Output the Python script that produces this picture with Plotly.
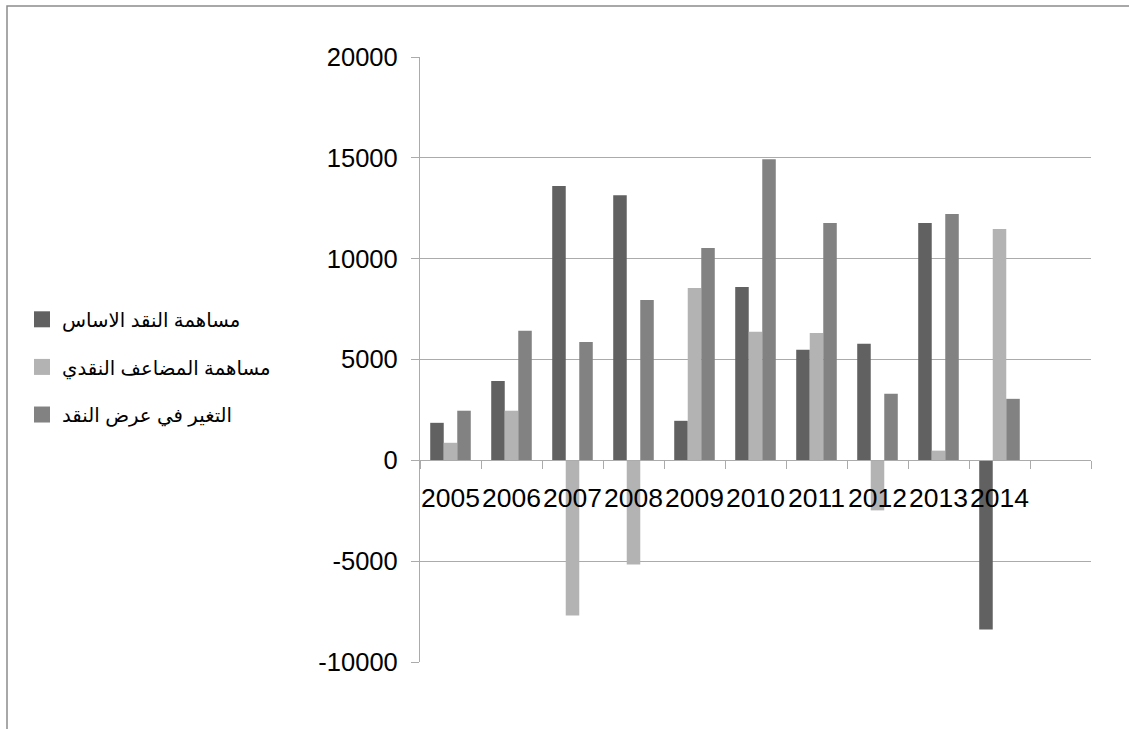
import plotly.graph_objects as go

# Yearly contributions to the change in money supply
years = ["2005", "2006", "2007", "2008", "2009", "2010", "2011", "2012", "2013", "2014"]
base_money = [1860, 3940, 13600, 13150, 1960, 8600, 5480, 5780, 11770, -8390]
multiplier = [870, 2460, -7700, -5170, 8550, 6370, 6320, -2480, 480, 11470]
money_supply_change = [2460, 6420, 5870, 7950, 10530, 14930, 11770, 3300, 12210, 3050]

series_names = [
    "مساهمة النقد الاساس",
    "مساهمة المضاعف النقدي",
    "التغير في عرض النقد",
]
series_colors = ["#616161", "#b3b3b3", "#828282"]

y_tick_values = [-10000, -5000, 0, 5000, 10000, 15000, 20000]
y_tick_labels = ["-10000", "-5000", "0", "5000", "10000", "15000", "20000"]

# one spare slot after the last year, as in the original sheet layout
x_categories = years + [" "]

FONT = "Liberation Sans, Arial, DejaVu Sans, sans-serif"
FS = 25.5
GRID = "#ababab"

W, H = 1129, 729
L, R, T, B = 420, 38, 57, 67
Y_MIN, Y_MAX = -10000, 20000

fig = go.Figure()
for name, vals, col in zip(series_names, [base_money, multiplier, money_supply_change], series_colors):
    fig.add_trace(go.Bar(
        x=years, y=vals, name=name, marker_color=col,
        marker_line_width=0, legendgroup=name, showlegend=False,
    ))
    # legend entry with a larger square key
    fig.add_trace(go.Scatter(
        x=[None], y=[None], mode="markers", name=name, legendgroup=name,
        marker=dict(symbol="square", size=16, color=col, line_width=0),
        showlegend=True,
    ))

# paper coordinates of the outer chart frame
pw, ph = W - L - R, H - T - B
fx0 = (7 - L) / pw
fx1 = (W + 10 - L) / pw
fy1 = (H - B - 6) / ph
fy0 = (H - B - (H + 10)) / ph

fig.update_layout(
    width=W, height=H,
    margin=dict(l=L, r=R, t=T, b=B, pad=0),
    paper_bgcolor="white", plot_bgcolor="white",
    barmode="group", bargap=0.335, bargroupgap=0,
    font=dict(family=FONT, size=FS, color="black"),
    showlegend=True,
    legend=dict(
        x=(22 - L) / pw, y=(H - B - 300) / ph,
        xanchor="left", yanchor="top",
        font=dict(family=FONT, size=19.7, color="black"),
        tracegroupgap=19, bgcolor="rgba(0,0,0,0)",
        itemsizing="trace",
    ),
    xaxis=dict(
        type="category", categoryorder="array", categoryarray=x_categories,
        range=[-0.5, len(x_categories) - 0.5],
        anchor="free", position=(0 - Y_MIN) / (Y_MAX - Y_MIN),
        showline=True, linecolor=GRID, linewidth=1.3,
        ticks="outside", ticklen=8, tickcolor=GRID, tickwidth=1.3,
        tickson="boundaries", showgrid=False, zeroline=False,
        tickangle=0, ticklabelstandoff=14,
        tickfont=dict(family=FONT, size=26.5, color="black"),
    ),
    yaxis=dict(
        range=[Y_MIN, Y_MAX],
        tickmode="array", tickvals=y_tick_values, ticktext=y_tick_labels,
        showline=True, linecolor=GRID, linewidth=1.3,
        ticks="outside", ticklen=8, tickcolor=GRID, tickwidth=1.3,
        showgrid=True, gridcolor=GRID, gridwidth=1.3,
        zeroline=False, ticklabelstandoff=8,
        tickfont=dict(family=FONT, size=FS, color="black"),
    ),
    shapes=[dict(
        type="rect", xref="paper", yref="paper",
        x0=fx0, x1=fx1, y0=fy0, y1=fy1,
        line=dict(color="#8c8c8c", width=1.5), layer="below",
    )],
)

fig.write_html("out.html")
